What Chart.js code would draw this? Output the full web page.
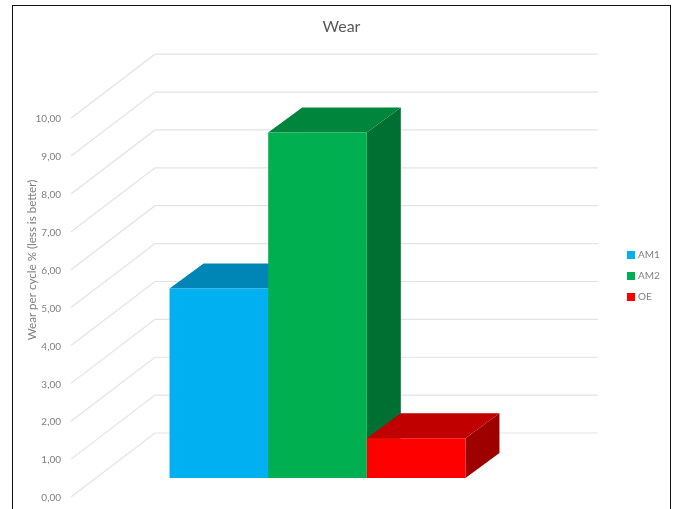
<!DOCTYPE html>
<html>
<head>
<meta charset="utf-8">
<style>
html,body{margin:0;padding:0;background:#fff;overflow:hidden}
#wrap{position:relative;width:675px;height:509px}
#frame{position:absolute;left:12px;top:5px;width:657px;height:520px;border:1.5px solid #111;pointer-events:none}
canvas{position:absolute;left:0;top:0}
</style>
<script src="https://cdn.jsdelivr.net/npm/chart.js@4"></script>
</head>
<body>
<div id="wrap"><canvas id="c" width="675" height="509"></canvas><div id="frame"></div></div>
<script>
const categories = ['Wear'];
const seriesNames = ['AM1', 'AM2', 'OE'];
const am1 = [5.0];
const am2 = [9.12];
const oe = [1.05];
const chartTitle = 'Wear';
const yAxisTitle = 'Wear per cycle % (less is better)';

const frontColors = ['#00B0F0', '#00B050', '#FF0000'];
const topColors = ['#0086B6', '#00853C', '#C00000'];
const sideColors = ['#006A90', '#006F32', '#9E0000'];
const textGrey = '#7F7F7F';
const gridGrey = '#E3E3E3';
const FONT = 'Lato, Carlito, Calibri, sans-serif';

const depthPlugin = {
  id: 'depth',
  afterLayout(chart) {
    chart.legend.left = 618;
    chart.legend.right = 670;
    chart.legend.top = 238;
    chart.legend.bottom = 314;
  },
  beforeDatasetsDraw(chart) {
    const { ctx, chartArea: a } = chart;
    const y = chart.scales.y;
    ctx.save();
    ctx.strokeStyle = gridGrey;
    ctx.lineWidth = 1.2;
    y.ticks.forEach(t => {
      const p = y.getPixelForValue(t.value);
      ctx.beginPath();
      ctx.moveTo(a.left - 25, p + 19);
      ctx.lineTo(a.left + 59, p - 45);
      ctx.lineTo(a.right + 59, p - 45);
      ctx.stroke();
    });
    const dx = 34, dy = -25;
    chart.data.datasets.forEach((d, i) => {
      const b = chart.getDatasetMeta(i).data[0];
      const l = b.x - b.width / 2, r = b.x + b.width / 2;
      ctx.fillStyle = sideColors[i];
      ctx.beginPath();
      ctx.moveTo(r, b.y); ctx.lineTo(r + dx, b.y + dy);
      ctx.lineTo(r + dx, b.base + dy); ctx.lineTo(r, b.base);
      ctx.closePath(); ctx.fill();
      ctx.fillStyle = topColors[i];
      ctx.beginPath();
      ctx.moveTo(l, b.y); ctx.lineTo(l + dx, b.y + dy);
      ctx.lineTo(r + dx, b.y + dy); ctx.lineTo(r, b.y);
      ctx.closePath(); ctx.fill();
    });
    ctx.restore();
  },
  afterDraw(chart) {
    const { ctx } = chart;
    ctx.save();
    ctx.translate(32, 260);
    ctx.rotate(-Math.PI / 2);
    ctx.font = '11.6px ' + FONT;
    ctx.fillStyle = textGrey;
    ctx.textAlign = 'center';
    ctx.textBaseline = 'middle';
    ctx.fillText(yAxisTitle, 0, 0);
    ctx.restore();
  }
};

new Chart(document.getElementById('c'), {
  type: 'bar',
  data: {
    labels: categories,
    datasets: [
      { label: seriesNames[0], data: am1, backgroundColor: frontColors[0] },
      { label: seriesNames[1], data: am2, backgroundColor: frontColors[1] },
      { label: seriesNames[2], data: oe, backgroundColor: frontColors[2] }
    ]
  },
  plugins: [depthPlugin],
  options: {
    responsive: false,
    animation: false,
    layout: { padding: { left: 14, right: 6, top: 0, bottom: 31 } },
    datasets: { bar: { categoryPercentage: 0.668, barPercentage: 1, borderWidth: 0 } },
    plugins: {
      tooltip: { enabled: false },
      title: {
        display: true,
        text: chartTitle,
        color: '#595959',
        font: { family: FONT, size: 16, weight: 'normal' },
        padding: { top: 17, bottom: 63 }
      },
      legend: {
        position: 'chartArea',
        labels: {
          boxWidth: 4,
          boxHeight: 4,
          padding: 11,
          color: textGrey,
          font: { family: FONT, size: 10 },
          generateLabels(chart) {
            return chart.data.datasets.map((d, i) => ({
              text: d.label,
              fillStyle: frontColors[i],
              strokeStyle: frontColors[i],
              lineWidth: 4,
              fontColor: textGrey,
              datasetIndex: i
            }));
          }
        }
      }
    },
    scales: {
      x: { display: false },
      y: {
        min: 0,
        max: 10,
        grid: { display: false, drawTicks: false },
        border: { display: false },
        ticks: {
          stepSize: 1,
          padding: 35,
          labelOffset: 20,
          color: textGrey,
          font: { family: FONT, size: 10 },
          callback: v => v.toFixed(2).replace('.', ',')
        },
        afterFit(s) { s.width = 82; s.paddingTop = 0; s.paddingBottom = 0; }
      },
      spacer: {
        type: 'linear',
        position: 'right',
        grid: { display: false, drawTicks: false },
        border: { display: false },
        ticks: { display: false },
        afterFit(s) { s.width = 130; }
      }
    }
  }
});
</script>
</body>
</html>
